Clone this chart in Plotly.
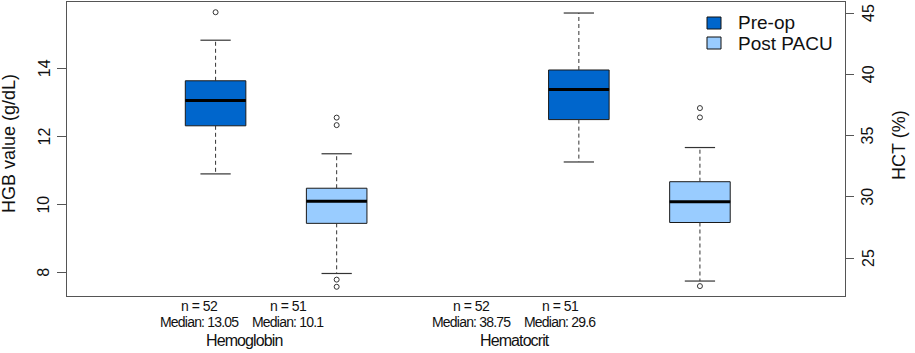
import plotly.graph_objects as go

# ---------------- data ----------------
groups = ["Hemoglobin", "Hematocrit"]
timepoints = ["Pre-op", "Post PACU"]
positions = [1, 2, 4, 5]
box_axis = ["y", "y", "y2", "y2"]
box_time = [0, 1, 0, 1]
n_counts = [52, 51, 52, 51]
medians = [13.05, 10.1, 38.75, 29.6]
q1_vals = [12.31, 9.45, 36.3, 27.9]
q3_vals = [13.63, 10.48, 40.35, 31.23]
low_whisk = [10.9, 7.98, 32.84, 23.12]
high_whisk = [14.82, 11.49, 45.0, 34.02]
outliers = [[15.64], [12.55, 12.33, 7.80, 7.59], [], [37.24, 36.48, 22.71]]
hgb_ticks = [8, 10, 12, 14]
hct_ticks = [25, 30, 35, 40, 45]

colors = ["#0066CC", "#99CCFF"]
W, H = 915, 353
L, R, T, B = 67, 70, 2, 57
pw, ph = W - L - R, H - T - B
XR = [-0.227, 6.198]
font = "Liberation Sans, Arial, sans-serif"

def narrow_text(s, spacing):
    return f"<span style='letter-spacing:{spacing}px'>{s}</span>"

fig = go.Figure()
BW = 0.5
CAP = 0.125
for i, pos in enumerate(positions):
    ya = box_axis[i]
    fig.add_trace(go.Box(
        x=[pos], q1=[q1_vals[i]], median=[medians[i]], q3=[q3_vals[i]],
        lowerfence=[q1_vals[i]], upperfence=[q3_vals[i]],
        width=BW, fillcolor=colors[box_time[i]],
        line=dict(color="#1a1a1a", width=1), whiskerwidth=0,
        yaxis=ya, showlegend=False, hoverinfo="skip"))
    # dashed whiskers
    fig.add_trace(go.Scatter(
        x=[pos, pos, None, pos, pos],
        y=[q3_vals[i], high_whisk[i], None, q1_vals[i], low_whisk[i]],
        mode="lines", line=dict(color="#333333", width=1, dash="4px,3px"),
        yaxis=ya, showlegend=False, hoverinfo="skip"))
    # staples
    fig.add_trace(go.Scatter(
        x=[pos - CAP, pos + CAP, None, pos - CAP, pos + CAP],
        y=[high_whisk[i], high_whisk[i], None, low_whisk[i], low_whisk[i]],
        mode="lines", line=dict(color="#333333", width=1.2),
        yaxis=ya, showlegend=False, hoverinfo="skip"))
    # thick median
    fig.add_trace(go.Scatter(
        x=[pos - BW / 2, pos + BW / 2], y=[medians[i], medians[i]],
        mode="lines", line=dict(color="black", width=3),
        yaxis=ya, showlegend=False, hoverinfo="skip"))
    if outliers[i]:
        fig.add_trace(go.Scatter(
            x=[pos] * len(outliers[i]), y=outliers[i], mode="markers",
            marker=dict(symbol="circle-open", size=5, color="#333333",
                        line=dict(width=1)),
            yaxis=ya, showlegend=False, hoverinfo="skip"))

annotations = []
shapes = []
# bottom labels
n_label_x = [0.864, 1.599, 3.112, 3.847]
group_label_x = [1.236, 3.475]
for i in range(4):
    annotations.append(dict(x=n_label_x[i], xref="x", y=0, yref="paper",
                            yanchor="middle", yshift=-10, showarrow=False,
                            text=narrow_text(f"n = {n_counts[i]}", -0.5),
                            font=dict(family=font, size=14, color="#111")))
    annotations.append(dict(x=n_label_x[i], xref="x", y=0, yref="paper",
                            yanchor="middle", yshift=-26, showarrow=False,
                            text=narrow_text(f"Median: {medians[i]}", -0.8),
                            font=dict(family=font, size=14, color="#111")))
for g, gx in zip(groups, group_label_x):
    annotations.append(dict(x=gx, xref="x", y=0, yref="paper",
                            yanchor="middle", yshift=-44, showarrow=False,
                            text=narrow_text(g, -0.9),
                            font=dict(family=font, size=16, color="#111")))

# y tick labels (rotated, R style)
for v in hgb_ticks:
    annotations.append(dict(x=0, xref="paper", y=v, yref="y", xshift=-23,
                            xanchor="center", yanchor="middle", textangle=-90,
                            showarrow=False, text=str(v),
                            font=dict(family=font, size=16, color="#111")))
for v in hct_ticks:
    annotations.append(dict(x=1, xref="paper", y=v, yref="y2", xshift=23,
                            xanchor="center", yanchor="middle", textangle=-90,
                            showarrow=False, text=str(v),
                            font=dict(family=font, size=16, color="#111")))

# axis titles
annotations.append(dict(x=0, xref="paper", y=0.5, yref="paper", xshift=-58,
                        xanchor="center", yanchor="middle",
                        yshift=5, textangle=-90, showarrow=False,
                        text="HGB value (g/dL)",
                        font=dict(family=font, size=18, color="#111")))
annotations.append(dict(x=1, xref="paper", y=0.5, yref="paper", xshift=54,
                        xanchor="center", yanchor="middle",
                        yshift=4, textangle=-90, showarrow=False,
                        text="HCT (%)",
                        font=dict(family=font, size=18, color="#111")))

# legend (manual)
def px2x(px):
    return (px - L) / pw

def py2y(py):
    return (T + ph - py) / ph

legend_rows = [23, 43]
for k, name in enumerate(timepoints):
    cy = legend_rows[k]
    shapes.append(dict(type="rect", xref="paper", yref="paper",
                       x0=px2x(707), x1=px2x(721), y0=py2y(cy + 6), y1=py2y(cy - 6),
                       fillcolor=colors[k], line=dict(color="#111", width=1)))
    annotations.append(dict(x=px2x(736), xref="paper", y=py2y(cy), yref="paper",
                            xanchor="left", yanchor="middle", showarrow=False,
                            text=name, font=dict(family=font, size=19, color="#111")))

fig.update_layout(
    width=W, height=H,
    margin=dict(l=L, r=R, t=T, b=B),
    plot_bgcolor="white", paper_bgcolor="white",
    showlegend=False,
    xaxis=dict(range=XR, showticklabels=False, ticks="", showgrid=False,
               zeroline=False, showline=True, mirror=True,
               linecolor="#555", linewidth=1),
    yaxis=dict(range=[7.32, 15.94], tickvals=hgb_ticks, ticks="outside",
               ticklen=9, tickcolor="#555", showticklabels=False,
               showgrid=False, zeroline=False, showline=True, mirror=True,
               linecolor="#555", linewidth=1),
    yaxis2=dict(range=[21.9, 45.9], tickvals=hct_ticks, ticks="outside",
                ticklen=8, tickcolor="#555", showticklabels=False,
                overlaying="y", side="right", showgrid=False, zeroline=False,
                showline=False),
    annotations=annotations, shapes=shapes,
)

fig.write_html("out.html", config={"displayModeBar": False},
               post_script="document.body.style.margin='0';document.body.style.overflow='hidden';")
